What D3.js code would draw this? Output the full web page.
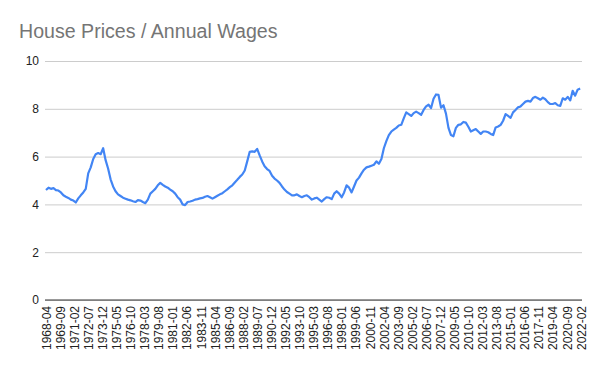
<!DOCTYPE html>
<html>
<head>
<meta charset="utf-8">
<script src="https://cdn.jsdelivr.net/npm/d3@7"></script>
<style>
  body { margin: 0; background: #fff; }
  svg { display: block; font-family: "Liberation Sans", Arial, sans-serif; }
</style>
</head>
<body>
<script>
// quarterly readings of house price / annual wage ratio, starting 1968-04
const startMonth = "1968-04";
const ratio = [
  4.6, 4.7, 4.65, 4.68, 4.6, 4.58, 4.5, 4.38, 4.32, 4.27, 4.2, 4.16, 4.08, 4.25, 4.38, 4.5, 4.65, 5.3,
  5.55, 5.9, 6.1, 6.15, 6.1, 6.35, 5.85, 5.5, 5.05, 4.75, 4.55, 4.42, 4.35, 4.28, 4.24, 4.2, 4.17, 4.13,
  4.1, 4.18, 4.16, 4.1, 4.05, 4.2, 4.45, 4.55, 4.65, 4.8, 4.9, 4.82, 4.75, 4.7, 4.62, 4.55, 4.45, 4.3,
  4.2, 4.0, 3.97, 4.1, 4.12, 4.15, 4.2, 4.22, 4.25, 4.27, 4.32, 4.35, 4.3, 4.24, 4.3, 4.36, 4.42, 4.47,
  4.55, 4.63, 4.72, 4.8, 4.92, 5.03, 5.15, 5.25, 5.42, 5.8, 6.2, 6.22, 6.2, 6.32, 6.05, 5.8, 5.6, 5.48,
  5.4, 5.2, 5.08, 5.0, 4.9, 4.75, 4.62, 4.52, 4.45, 4.38, 4.38, 4.42, 4.35, 4.3, 4.35, 4.38, 4.3, 4.2,
  4.25, 4.28, 4.2, 4.12, 4.22, 4.3, 4.28, 4.22, 4.45, 4.55, 4.45, 4.3, 4.5, 4.8, 4.7, 4.5, 4.75, 5.0,
  5.12, 5.3, 5.45, 5.55, 5.58, 5.62, 5.66, 5.8, 5.7, 5.9, 6.35, 6.65, 6.9, 7.05, 7.13, 7.2, 7.3, 7.33,
  7.6, 7.85, 7.78, 7.7, 7.82, 7.88, 7.82, 7.75, 7.95, 8.1, 8.17, 8.03, 8.42, 8.6, 8.58, 8.05, 8.15, 7.8,
  7.2, 6.9, 6.85, 7.2, 7.33, 7.35, 7.45, 7.42, 7.25, 7.05, 7.1, 7.15, 7.05, 6.95, 7.05, 7.05, 7.02, 6.95,
  6.9, 7.22, 7.26, 7.33, 7.5, 7.78, 7.7, 7.62, 7.85, 7.95, 8.06, 8.1, 8.2, 8.3, 8.33, 8.3, 8.45, 8.5,
  8.44, 8.38, 8.47, 8.4, 8.28, 8.2, 8.2, 8.24, 8.15, 8.12, 8.44, 8.38, 8.5, 8.35, 8.75, 8.55, 8.8, 8.85
];
const xTickLabels = [
  "1968-04", "1969-09", "1971-02", "1972-07", "1973-12", "1975-05", "1976-10", "1978-03",
  "1979-08", "1981-01", "1982-06", "1983-11", "1985-04", "1986-09", "1988-02", "1989-07",
  "1990-12", "1992-05", "1993-10", "1995-03", "1996-08", "1998-01", "1999-06", "2000-11",
  "2002-04", "2003-09", "2005-02", "2006-07", "2007-12", "2009-05", "2010-10", "2012-03",
  "2013-08", "2015-01", "2016-06", "2017-11", "2019-04", "2020-09", "2022-02"
];
const yTicks = [0, 2, 4, 6, 8, 10];
const title = "House Prices / Annual Wages";

const W = 600, H = 371;
const margin = { top: 61, right: 18, bottom: 71, left: 46 };

const parseMonth = d3.timeParse("%Y-%m");
const t0 = parseMonth(startMonth);
const series = ratio.map((v, i) => ({ date: d3.timeMonth.offset(t0, i * 3), value: v }));

const svg = d3.select("body").append("svg")
  .attr("width", W)
  .attr("height", H);

const x = d3.scaleTime()
  .domain([t0, parseMonth(xTickLabels[xTickLabels.length - 1])])
  .range([margin.left, W - margin.right - 1]);

const y = d3.scaleLinear()
  .domain([0, 10])
  .range([H - margin.bottom, margin.top]);

svg.append("text")
  .attr("x", 19)
  .attr("y", 38)
  .attr("font-size", 19.6)
  .attr("fill", "#757575")
  .text(title);

// gridlines + y labels
const yAxis = svg.append("g")
  .attr("transform", `translate(${margin.left - 1},0)`)
  .call(d3.axisLeft(y).tickValues(yTicks).tickSize(-(W - margin.left - margin.right + 1)).tickPadding(6));
yAxis.select(".domain").remove();
yAxis.selectAll(".tick line").attr("stroke", "#cccccc");
yAxis.selectAll(".tick text").attr("font-size", 12).attr("fill", "#222").attr("font-family", "Liberation Sans, Arial, sans-serif");

// baseline
svg.append("line")
  .attr("x1", margin.left - 1)
  .attr("x2", W - margin.right)
  .attr("y1", y(0))
  .attr("y2", y(0))
  .attr("stroke", "#333");

// x labels
const xAxis = svg.append("g")
  .attr("transform", `translate(0,${y(0)})`)
  .call(d3.axisBottom(x).tickValues(xTickLabels.map(parseMonth)).tickSize(0).tickFormat(d3.timeFormat("%Y-%m")));
xAxis.select(".domain").remove();
xAxis.selectAll(".tick text")
  .attr("font-size", 12)
  .attr("fill", "#222")
  .attr("font-family", "Liberation Sans, Arial, sans-serif")
  .attr("transform", "rotate(-90)")
  .attr("text-anchor", "end")
  .attr("x", -6)
  .attr("y", 0)
  .attr("dy", "0.35em");

svg.append("path")
  .datum(series)
  .attr("fill", "none")
  .attr("stroke", "#4285f4")
  .attr("stroke-width", 2.2)
  .attr("stroke-linejoin", "round")
  .attr("d", d3.line().x(d => x(d.date)).y(d => y(d.value)));
</script>
</body>
</html>
